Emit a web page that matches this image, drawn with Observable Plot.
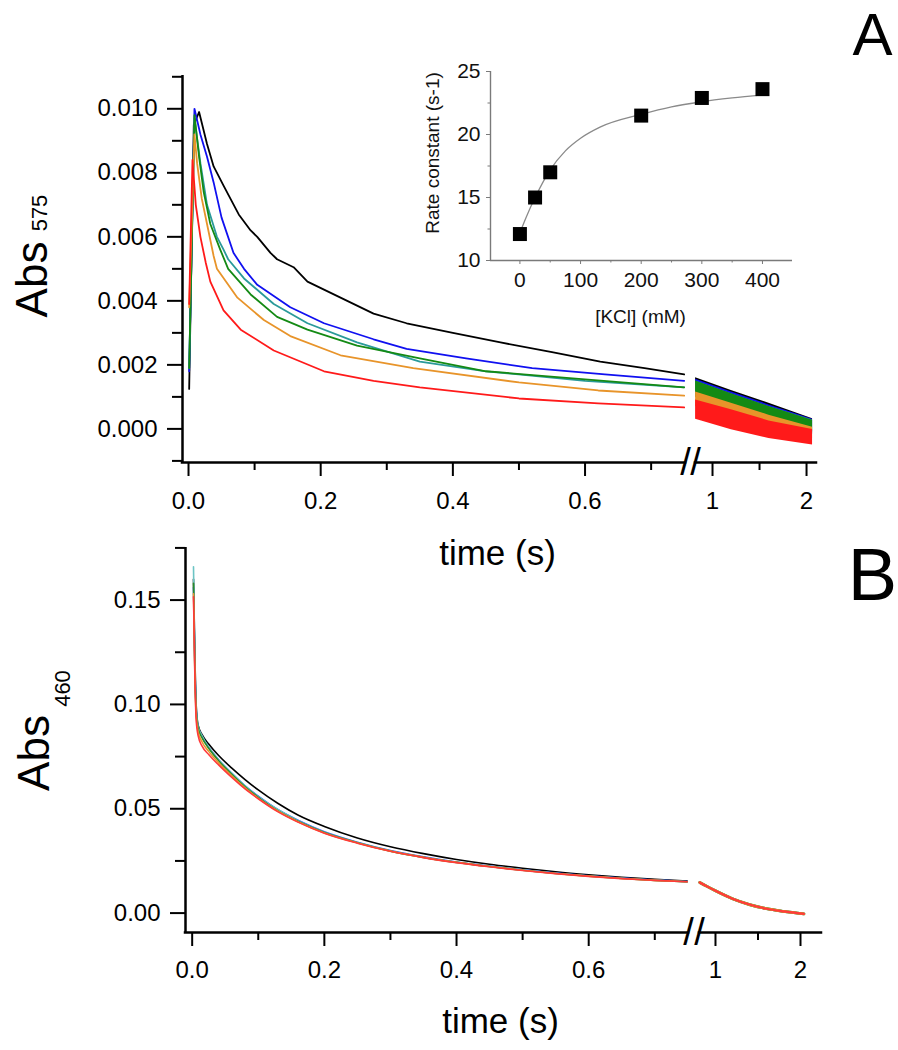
<!DOCTYPE html>
<html><head><meta charset="utf-8">
<script src="https://cdn.jsdelivr.net/npm/d3@7"></script>
<script src="https://cdn.jsdelivr.net/npm/@observablehq/plot@0.6"></script>
<style>
body{margin:0;background:#fff;}
#wrap{position:relative;width:898px;height:1050px;overflow:hidden;background:#fff;}
#wrap svg{position:absolute;background:transparent;overflow:visible;}
</style></head><body><div id="wrap"></div>
<script>
const FONT = "'Liberation Sans', Arial, Helvetica, sans-serif";

// ---------- Panel A : Abs 575 traces (t in s, absorbance) ----------
const seriesKCl = ["0 mM", "25 mM", "50 mM", "200 mM", "300 mM", "400 mM"];
const colorsA = ["#000000", "#1010f0", "#2a9a9a", "#148a14", "#e8942a", "#ff1a1a"];
const traceA_0 = [[0.001,0.00125],[0.008,0.0095],[0.016,0.0099],[0.028,0.0089],[0.038,0.0082],[0.053,0.0076],[0.076,0.0067],[0.094,0.0062],[0.104,0.0060],[0.124,0.0055],[0.134,0.0053],[0.159,0.00505],[0.18,0.0046],[0.23,0.0041],[0.28,0.0036],[0.33,0.0033],[0.4,0.0030],[0.472,0.0027],[0.55,0.0024],[0.623,0.0021],[0.69,0.0019],[0.75,0.0017]];
const traceA_25 = [[0.001,0.0018],[0.009,0.0100],[0.018,0.0092],[0.028,0.0085],[0.038,0.0077],[0.05,0.0066],[0.068,0.0055],[0.084,0.0050],[0.104,0.0045],[0.154,0.0038],[0.205,0.0033],[0.28,0.0028],[0.33,0.0025],[0.42,0.0022],[0.52,0.0019],[0.63,0.0017],[0.75,0.0015]];
const traceA_50 = [[0.001,0.0019],[0.009,0.0097],[0.018,0.0083],[0.028,0.0070],[0.043,0.0060],[0.053,0.0056],[0.06,0.0053],[0.084,0.0047],[0.129,0.0039],[0.18,0.0033],[0.255,0.0027],[0.35,0.0021],[0.45,0.0018],[0.6,0.0015],[0.75,0.0013]];
const traceA_200 = [[0.001,0.0019],[0.009,0.0098],[0.016,0.0085],[0.023,0.0074],[0.033,0.0064],[0.048,0.0056],[0.06,0.0050],[0.094,0.0042],[0.134,0.0035],[0.18,0.0031],[0.255,0.0026],[0.35,0.0022],[0.45,0.0018],[0.6,0.00155],[0.75,0.0013]];
const traceA_300 = [[0.001,0.0038],[0.009,0.0092],[0.013,0.0083],[0.020,0.0072],[0.028,0.0064],[0.038,0.0054],[0.043,0.0050],[0.074,0.0041],[0.114,0.0034],[0.154,0.0029],[0.23,0.0023],[0.34,0.0019],[0.5,0.00145],[0.62,0.0012],[0.75,0.00104]];
const traceA_400 = [[0.001,0.0039],[0.006,0.0084],[0.011,0.0070],[0.018,0.0060],[0.026,0.0052],[0.033,0.0046],[0.053,0.0037],[0.079,0.0031],[0.129,0.00245],[0.205,0.0018],[0.28,0.0015],[0.35,0.0013],[0.5,0.00095],[0.62,0.0008],[0.75,0.00067]];
const tracesA = [traceA_0, traceA_25, traceA_50, traceA_200, traceA_300, traceA_400];

// Panel A after the axis break: noisy bands, upper / lower envelope
const bandT = [0.82, 1.2, 1.6, 2.064];
const bandHi_0 = [0.0016, 0.0012, 0.0008, 0.00032];
const bandLo_0 = [0.0011, 0.0007, 0.0003, -0.0001];
const bandHi_25 = [0.00155, 0.00115, 0.00075, 0.0003];
const bandLo_25 = [0.001, 0.0006, 0.0002, -0.00018];
const bandHi_50 = [0.0015, 0.0011, 0.0007, 0.00028];
const bandLo_50 = [0.001, 0.0006, 0.0002, -0.00015];
const bandHi_200 = [0.0015, 0.0011, 0.0007, 0.00027];
const bandLo_200 = [0.0010, 0.0006, 0.00022, -0.00012];
const bandHi_300 = [0.00115, 0.0008, 0.00043, 0.00005];
const bandLo_300 = [0.0007, 0.0004, 0.00003, -0.0003];
const bandHi_400 = [0.0009, 0.0006, 0.00025, -0.00002];
const bandLo_400 = [0.0003, -0.00003, -0.0003, -0.0005];
const bandsHi = [bandHi_0, bandHi_25, bandHi_50, bandHi_200, bandHi_300, bandHi_400];
const bandsLo = [bandLo_0, bandLo_25, bandLo_50, bandLo_200, bandLo_300, bandLo_400];

// ---------- Panel B : Abs 460 traces ----------
const colorsB = ["#000000", "#3050ff", "#6cc4c4", "#2a8a2a", "#e8962e", "#ff3a3a"];
const traceB_0 = [[0.002,0.160],[0.004,0.125],[0.006,0.100],[0.009,0.090],[0.015,0.0855],[0.025,0.081],[0.04,0.0755],[0.06,0.0695],[0.08,0.064],[0.1,0.059],[0.13,0.0525],[0.16,0.047],[0.2,0.0415],[0.25,0.036],[0.3,0.0318],[0.35,0.0285],[0.4,0.0257],[0.45,0.0234],[0.5,0.0215],[0.55,0.0198],[0.6,0.0184],[0.65,0.0172],[0.7,0.0162],[0.749,0.0153]];
const traceB_25 = [[0.002,0.156],[0.004,0.12],[0.006,0.098],[0.009,0.089],[0.015,0.0845],[0.025,0.0795],[0.04,0.0735],[0.06,0.067],[0.08,0.061],[0.1,0.056],[0.13,0.0495],[0.16,0.0445],[0.2,0.039],[0.25,0.034],[0.3,0.030],[0.35,0.027],[0.4,0.0245],[0.45,0.0225],[0.5,0.0207],[0.55,0.0192],[0.6,0.0179],[0.65,0.0168],[0.7,0.0159],[0.749,0.0151]];
const traceB_50 = [[0.002,0.166],[0.004,0.122],[0.006,0.099],[0.009,0.0895],[0.015,0.085],[0.025,0.0795],[0.04,0.0735],[0.06,0.067],[0.08,0.061],[0.1,0.0558],[0.13,0.0495],[0.16,0.0443],[0.2,0.0388],[0.25,0.0338],[0.3,0.0298],[0.35,0.0268],[0.4,0.0244],[0.45,0.0224],[0.5,0.0206],[0.55,0.0191],[0.6,0.0178],[0.65,0.0167],[0.7,0.0158],[0.749,0.0150]];
const traceB_200 = [[0.002,0.158],[0.004,0.118],[0.006,0.097],[0.009,0.0885],[0.015,0.084],[0.025,0.079],[0.04,0.073],[0.06,0.0665],[0.08,0.0605],[0.1,0.0555],[0.13,0.049],[0.16,0.044],[0.2,0.0386],[0.25,0.0337],[0.3,0.0297],[0.35,0.0267],[0.4,0.0243],[0.45,0.0223],[0.5,0.0205],[0.55,0.0190],[0.6,0.0177],[0.65,0.0166],[0.7,0.0157],[0.749,0.0150]];
const traceB_300 = [[0.002,0.153],[0.004,0.116],[0.006,0.095],[0.009,0.087],[0.015,0.082],[0.025,0.0775],[0.04,0.072],[0.06,0.0658],[0.08,0.060],[0.1,0.055],[0.13,0.0488],[0.16,0.0438],[0.2,0.0384],[0.25,0.0336],[0.3,0.0297],[0.35,0.0267],[0.4,0.0243],[0.45,0.0223],[0.5,0.0205],[0.55,0.0190],[0.6,0.0177],[0.65,0.0166],[0.7,0.0157],[0.749,0.0150]];
const traceB_400 = [[0.002,0.1516],[0.004,0.115],[0.006,0.093],[0.009,0.085],[0.015,0.080],[0.025,0.076],[0.04,0.071],[0.06,0.065],[0.08,0.0595],[0.1,0.0548],[0.13,0.0485],[0.16,0.0436],[0.2,0.0383],[0.25,0.0335],[0.3,0.0296],[0.35,0.0266],[0.4,0.0242],[0.45,0.0222],[0.5,0.0204],[0.55,0.0189],[0.6,0.0176],[0.65,0.0165],[0.7,0.0157],[0.749,0.0150]];
const tracesB = [traceB_0, traceB_25, traceB_50, traceB_200, traceB_300, traceB_400];
// after the break all six traces coincide
const traceB_late = [[0.815,0.0147],[0.9,0.0128],[1.0,0.0107],[1.2,0.0069],[1.4,0.0041],[1.6,0.0021],[1.8,0.0008],[2.04,-0.0004]];

// ---------- Inset : rate constant vs [KCl] ----------
const kcl = [0, 25, 50, 200, 300, 400];
const rateConst = [12.1, 15.0, 17.0, 21.5, 22.9, 23.6];
const fitKcl = [0, 10, 25, 50, 75, 100, 133, 200, 250, 300, 350, 400];
const fitRate = [12.2, 13.4, 15.0, 17.2, 18.7, 19.7, 20.6, 21.6, 22.2, 22.6, 22.9, 23.15];

// ---------- axes / ticks ----------
const xMajorTicks = [0, 0.2, 0.4, 0.6, 1, 2];
const xMinorTicks = [0.1, 0.3, 0.5, 0.7, 1.5];
const yMajorA = [0, 0.002, 0.004, 0.006, 0.008, 0.010];
const yMinorA = [-0.001, 0.001, 0.003, 0.005, 0.007, 0.009, 0.011];
const yMajorB = [0, 0.05, 0.10, 0.15];
const yMinorB = [0.025, 0.075, 0.125, 0.175];
const insetXMajor = [0, 100, 200, 300, 400];
const insetXMinor = [50, 150, 250, 350];
const insetYMajor = [10, 15, 20, 25];
const insetYMinor = [12.5, 17.5, 22.5];

// broken time axes (piecewise linear scales)
const xDomainA = [-0.0091, 0.752, 0.819, 2.106];
const xRangeA = [182, 685, 695, 816];
const yDomainA = [-0.00105, 0.01104];
const xDomainB = [-0.0101, 0.751, 0.812, 2.247];
const xRangeB = [185, 688, 699, 821];
const yDomainB = [-0.0093, 0.1752];

const fmtT = d => d < 0.9 ? d.toFixed(1) : String(d);
const blank = () => "";
const pts = arr => arr.map(([t, v]) => ({t, v}));
const label = (s, o) => Plot.text([s], {text: d => d, textAnchor: "middle", lineAnchor: "middle", ...o});

function brokenAxisMarks(xDom, yMin, fmtY, yMaj, yMin2, tickPadX) {
  return [
    Plot.ruleY([{y: yMin, a: xDom[0], b: xDom[1]}, {y: yMin, a: xDom[2], b: xDom[3]}], {y: "y", x1: "a", x2: "b", strokeWidth: 2.5, strokeLinecap: "square"}),
    Plot.text([{x: xDom[1], y: yMin}, {x: xDom[2], y: yMin}], {x: "x", y: "y", text: () => "/", fontSize: 38, fill: "black", textAnchor: "middle", lineAnchor: "middle"}),
    Plot.axisX({ticks: xMajorTicks, tickSize: 14, tickPadding: tickPadX, tickFormat: fmtT, fontSize: 24, strokeWidth: 2, label: null}),
    Plot.axisX({ticks: xMinorTicks, tickSize: 8, tickFormat: blank, fill: "none", strokeWidth: 2, label: null}),
    Plot.axisY({ticks: yMaj, tickSize: 15, tickPadding: 10, tickFormat: fmtY, fontSize: 24, strokeWidth: 2, label: null}),
    Plot.axisY({ticks: yMin2, tickSize: 10, tickFormat: blank, fill: "none", strokeWidth: 2, label: null})
  ];
}

// ---------- Panel A ----------
const marksA = [];
tracesA.forEach((tr, i) => {
  marksA.push(Plot.line(pts(tr), {x: "t", y: "v", stroke: colorsA[i], strokeWidth: 1.8}));
});
bandsHi.forEach((hi, i) => {
  const rows = bandT.map((t, j) => ({t, hi: hi[j], lo: bandsLo[i][j]}));
  marksA.push(Plot.areaY(rows, {x: "t", y1: "lo", y2: "hi", fill: colorsA[i]}));
});
marksA.push(
  Plot.ruleX([{x: xDomainA[0], y1: yDomainA[0], y2: yDomainA[1]}], {x: "x", y1: "y1", y2: "y2", strokeWidth: 2.5}),
  ...brokenAxisMarks(xDomainA, yDomainA[0], d3.format(".3f"), yMajorA, yMinorA, 15),
  label("Abs", {frameAnchor: "left", rotate: -90, fontSize: 44, dx: -150, dy: 10.5}),
  label("575", {frameAnchor: "left", rotate: -90, fontSize: 22, dx: -143, dy: -56}),
  label("time (s)", {frameAnchor: "bottom", fontSize: 35, dx: -2, dy: 91.7}),
  label("A", {frameAnchor: "top-right", fontSize: 60, dx: 56, dy: -40.2})
);

const plotA = Plot.plot({
  width: 898, height: 580,
  marginLeft: 182, marginRight: 82, marginTop: 75, marginBottom: 118,
  style: {fontFamily: FONT, background: "transparent", overflow: "visible", color: "black"},
  x: {type: "linear", domain: xDomainA, range: xRangeA, axis: null},
  y: {domain: yDomainA, axis: null},
  marks: marksA
});

// ---------- Panel B ----------
const marksB = [];
tracesB.forEach((tr, i) => {
  marksB.push(Plot.line(pts(tr), {x: "t", y: "v", stroke: colorsB[i], strokeWidth: 1.6, curve: "monotone-x"}));
});
[2, 3, 4, 5].forEach(i => {
  marksB.push(Plot.line(pts(traceB_late), {x: "t", y: "v", stroke: colorsB[i], strokeWidth: i === 5 ? 2.2 : 2.8, curve: "monotone-x"}));
});
marksB.push(
  Plot.ruleX([{x: xDomainB[0], y1: yDomainB[0], y2: yDomainB[1]}], {x: "x", y1: "y1", y2: "y2", strokeWidth: 2.5}),
  ...brokenAxisMarks(xDomainB, yDomainB[0], d3.format(".2f"), yMajorB, yMinorB, 14),
  label("Abs", {frameAnchor: "left", rotate: -90, fontSize: 44, dx: -151, dy: 13}),
  label("460", {frameAnchor: "left", rotate: -90, fontSize: 22, dx: -122.5, dy: -51.5}),
  label("time (s)", {frameAnchor: "bottom", fontSize: 35, dx: -3, dy: 89.2}),
  label("B", {frameAnchor: "top-right", fontSize: 74, dx: 51, dy: 29})
);

const plotB = Plot.plot({
  width: 898, height: 530,
  marginLeft: 185, marginRight: 77, marginTop: 27, marginBottom: 118,
  style: {fontFamily: FONT, background: "transparent", overflow: "visible", color: "black"},
  x: {type: "linear", domain: xDomainB, range: xRangeB, axis: null},
  y: {domain: yDomainB, axis: null},
  marks: marksB
});

// ---------- Inset ----------
const insetGray = "#7a7a7a";
const plotI = Plot.plot({
  width: 430, height: 300,
  marginLeft: 110, marginRight: 18, marginTop: 31, marginBottom: 80,
  style: {fontFamily: FONT, background: "transparent", overflow: "visible", color: "#111"},
  x: {domain: [-48.5, 449.5], axis: null},
  y: {domain: [10, 25], axis: null},
  marks: [
    Plot.ruleX([{x: -48.5}], {x: "x", y1: 10, y2: 25, stroke: insetGray, strokeWidth: 1.4}),
    Plot.ruleY([{y: 10}], {y: "y", x1: -48.5, x2: 449.5, stroke: insetGray, strokeWidth: 1.4}),
    Plot.axisX({ticks: insetXMajor, tickSize: 4, tickPadding: 8, fontSize: 21, stroke: insetGray, fill: "#111", label: null}),
    Plot.axisX({ticks: insetXMinor, tickSize: 2.5, tickFormat: blank, fill: "none", stroke: insetGray, label: null}),
    Plot.axisY({ticks: insetYMajor, tickSize: 4, tickPadding: 6, fontSize: 21, stroke: insetGray, fill: "#111", label: null}),
    Plot.axisY({ticks: insetYMinor, tickSize: 2.5, tickFormat: blank, fill: "none", stroke: insetGray, label: null}),
    Plot.line(fitKcl.map((k, i) => ({k, r: fitRate[i]})), {x: "k", y: "r", stroke: "#8a8a8a", strokeWidth: 1.3, curve: "monotone-x"}),
    Plot.dot(kcl.map((k, i) => ({k, r: rateConst[i]})), {x: "k", y: "r", symbol: "square", r: 7.9, fill: "black", stroke: "none"}),
    label("Rate constant (s-1)", {frameAnchor: "left", rotate: -90, fontSize: 19, dx: -57.5, dy: -13}),
    label("[KCl] (mM)", {frameAnchor: "bottom", fontSize: 19, dx: -1, dy: 56.5})
  ]
});

const wrap = document.getElementById("wrap");
plotA.style.left = "0px"; plotA.style.top = "0px";
plotB.style.left = "0px"; plotB.style.top = "520px";
plotI.style.left = "380px"; plotI.style.top = "40px";
wrap.appendChild(plotA);
wrap.appendChild(plotB);
wrap.appendChild(plotI);
</script></body></html>
